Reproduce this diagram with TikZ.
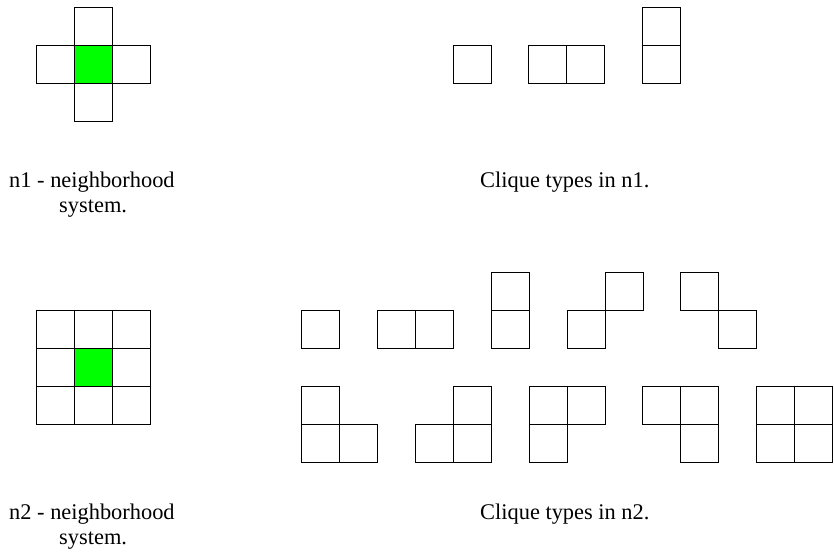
\documentclass[tikz,border=0pt]{standalone}
\usepackage{fontspec}
\setmainfont{Liberation Serif}
\definecolor{cellgreen}{RGB}{0,255,0}
\newcommand\sq[2]{\draw[cellline] (#1,#2) rectangle ++(38,38);}
\newcommand\gsq[2]{\draw[cellline,fill=cellgreen] (#1,#2) rectangle ++(38,38);}
\begin{document}
\begin{tikzpicture}[x=1pt,y=-1pt,
  cellline/.style={draw=black,line width=1pt},
  lbl/.style={anchor=base west,inner sep=0pt,font=\fontsize{22.4}{26}\selectfont}]
\useasboundingbox (0,0) rectangle (834,557);
% n1 neighborhood
\sq{74}{7}
\sq{36}{45}\gsq{74}{45}\sq{112}{45}
\sq{74}{83}
% n1 cliques
\sq{453}{45}
\sq{528}{45}\sq{566}{45}
\sq{642}{7}\sq{642}{45}
% n2 neighborhood
\sq{36}{310}\sq{74}{310}\sq{112}{310}
\sq{36}{348}\gsq{74}{348}\sq{112}{348}
\sq{36}{386}\sq{74}{386}\sq{112}{386}
% n2 cliques row 1
\sq{301}{310}
\sq{377}{310}\sq{415}{310}
\sq{491}{272}\sq{491}{310}
\sq{567}{310}\sq{605}{272}
\sq{680}{272}\sq{718}{310}
% n2 cliques row 2
\sq{301}{386}\sq{301}{424}\sq{339}{424}
\sq{453}{386}\sq{415}{424}\sq{453}{424}
\sq{529}{386}\sq{567}{386}\sq{529}{424}
\sq{642}{386}\sq{680}{386}\sq{680}{424}
\sq{756}{386}\sq{794}{386}\sq{756}{424}\sq{794}{424}
% labels
\node[lbl] (t1a) at (9,187) {n1 - neighborhood};
\node[lbl] (t1b) at (59,212) {system.};
\node[lbl] (c1) at (480,187) {Clique types in n1.};
\node[lbl] (t2a) at (9,519) {n2 - neighborhood};
\node[lbl] (t2b) at (59,544) {system.};
\node[lbl] (c2) at (480,519) {Clique types in n2.};
\end{tikzpicture}
\end{document}
